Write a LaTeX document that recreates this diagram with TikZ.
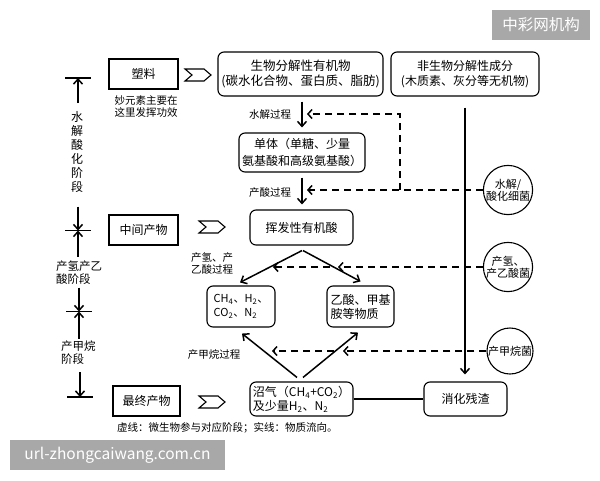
\documentclass[tikz,border=0pt]{standalone}
\usepackage{fontspec}
\setmainfont{Noto Sans CJK SC}
\usetikzlibrary{arrows.meta,calc}
\newcommand\fz[2]{\fontsize{#1}{#2}\selectfont}
\definecolor{wm}{HTML}{A8A8A8}
\begin{document}
\begin{tikzpicture}[x=1pt,y=-1pt,
 sq/.style={draw, line width=1.1pt, inner sep=0pt, align=center, font=\fz{12}{15}},
 rb/.style={sq, rounded corners=6pt},
 arr/.style={line width=1.5pt, -{Straight Barb[length=5pt,width=9pt]}},
 dsh/.style={line width=1.5pt, dash pattern=on 7pt off 5pt, -{Straight Barb[length=4pt,width=9pt]}},
 lab/.style={font=\fz{10.5}{12}, inner sep=0pt, align=left},
 circ/.style={draw, circle, line width=1.1pt, minimum size=46pt, inner sep=0pt, align=center, font=\fz{11}{12}},
 chev/.style={line width=1.1pt},
 barline/.style={line width=1.5pt},
 stage/.style={inner sep=0pt, font=\fz{11.5}{13}, align=left},
 wmbox/.style={fill=wm, text=white, inner sep=0pt, font=\fz{15.5}{18}}
]
\useasboundingbox (0,0) rectangle (600,480);

% boxes
\node[sq, minimum width=69, minimum height=30] (plastic) at (143.5,74) {塑料};
\node[lab, align=center] (note) at (146,107) {妙元素主要在\\这里发挥功效};
\node[rb, font=\fz{12.5}{15}, minimum width=165, minimum height=44] (bio) at (300.5,74) {生物分解性有机物\\(碳水化合物、蛋白质、脂肪)};
\node[rb, minimum width=148, minimum height=44] (nonbio) at (465,74) {非生物分解性成分\\(木质素、灰分等无机物)};
\node[rb, minimum width=126, minimum height=39, font=\fz{12}{17}] (mono) at (302,152.5) {单体（单糖、少量\\氨基酸和高级氨基酸）};
\node[rb, minimum width=103, minimum height=35] (vfa) at (301.5,227.5) {挥发性有机酸};
\node[sq, minimum width=69, minimum height=30] (mid) at (143.5,230) {中间产物};
\node[rb, minimum width=68, minimum height=41, font=\fz{11}{14}, align=left] (gas) at (241,306.5) {CH\textsubscript{4}、H\textsubscript{2}、\\CO\textsubscript{2}、N\textsubscript{2}};
\node[rb, minimum width=67, minimum height=41, align=left, font=\fz{12}{14}] (acet) at (360.5,306.5) {乙酸、甲基\\胺等物质};
\node[rb, minimum width=103, minimum height=34, align=left, font=\fz{12}{14}] (biogas) at (301.5,399) {沼气（CH\textsubscript{4}+CO\textsubscript{2}）\\及少量H\textsubscript{2}、N\textsubscript{2}};
\node[rb, minimum width=83, minimum height=34] (resid) at (465.5,399) {消化残渣};
\node[sq, minimum width=67, minimum height=30] (final) at (146.5,401) {最终产物};

% circles
\node[circ] (c1) at (508,190) {水解/\\酸化细菌};
\node[circ] (c2) at (508,267) {产氢、\\产乙酸菌};
\node[circ] (c3) at (510,351) {产甲烷菌};

% labels
\node[lab] (l1) at (270,115) {水解过程};
\node[lab] (l2) at (270,193) {产酸过程};
\node[lab, anchor=west] (l3) at (191,263.5) {产氢、产\\乙酸过程};
\node[lab] (l4) at (214,355) {产甲烷过程};
\node[lab, anchor=west] (cap) at (117,428) {虚线：微生物参与对应阶段；实线：物质流向。};

% chevrons
\coordinate (ch1) at (185,69);
\coordinate (ch2) at (199,221);
\coordinate (ch3) at (199,396);
\foreach \c in {ch1,ch2,ch3}
  \draw[chev] (\c) -- ++(19,0) -- ++(7,6) -- ++(-7,6) -- ++(-19,0) -- ++(7,-6) -- cycle;

% stage markers
\coordinate (b1) at (78,78);
\coordinate (b2) at (78,230.5);
\coordinate (b3) at (79,311.5);
\coordinate (b4) at (80,397);
\foreach \b in {b1,b2,b3,b4}
  \draw[barline] ($(\b)+(-13,0)$) -- ($(\b)+(13,0)$);
\draw[arr] ($(b1)+(0,25)$) -- (b1);
\draw[arr] ($(b2)+(0,-24)$) -- (b2);
\draw[arr] ($(b2)+(0,26)$) -- (b2);
\draw[arr] ($(b3)+(0,-24)$) -- (b3);
\draw[arr] ($(b3)+(0,27)$) -- (b3);
\draw[arr] ($(b4)+(0,-25)$) -- (b4);
\node[inner sep=0pt, font=\fz{12}{14}, align=center] (s1) at (77,152) {水\\解\\酸\\化\\阶\\段};
\node[stage, anchor=west] (s2) at (56,272.5) {产氢产乙\\酸阶段};
\node[stage, anchor=west] (s3) at (61,353) {产甲烷\\阶段};

% main flow
\draw[arr] ($(bio.south -| mono.north)+(0,5)$) -- ($(mono.north)+(0,-5)$);
\draw[arr] ($(mono.south)+(0,5)$) -- ($(mono.south |- vfa.north)+(0,-5)$);
\draw[arr] ($(vfa.south)+(0.5,5)$) -- ($(gas.north)+(-1,-3)$);
\draw[arr] ($(vfa.south)+(1.5,5)$) -- ($(acet.north)+(0,-4)$);
\draw[arr] ($(biogas.north)+(-4.5,-4)$) -- ($(gas.south)+(1,6)$);
\draw[arr] ($(biogas.north)+(1.5,-4)$) -- ($(acet.south)+(-2.5,5)$);
\draw[arr] ($(nonbio.south)+(0,11)$) -- ($(resid.north)+(-0.5,-7)$);
\draw[line width=1.1pt] (biogas.east) -- (resid.west);

% dashed (microbes)
\coordinate (d1) at (307,114);
\coordinate (d1c) at (400,190);
\coordinate (d2) at (307,190);
\draw[dsh] (d1c) -- (d1c |- d1) -- (d1);
\draw[dsh] (c1.west) -- (d2);
\coordinate (e1) at (338,267);
\coordinate (e2) at (273,267);
\coordinate (e3) at (330,267);
\draw[dsh] (c2.west) -- (e1);
\draw[dsh] (e3) -- (e2);
\coordinate (f1) at (343,351);
\coordinate (f2) at (272,351);
\coordinate (f3) at (334,351);
\draw[dsh] (c3.west) -- (f1);
\draw[dsh] (f3) -- (f2);

% watermarks
\node[wmbox, minimum width=98, minimum height=30] (wm1) at (541,25) {中彩网机构};
\node[wmbox, minimum width=215, minimum height=30] (wm2) at (117.5,455) {url-zhongcaiwang.com.cn};
\end{tikzpicture}
\end{document}
